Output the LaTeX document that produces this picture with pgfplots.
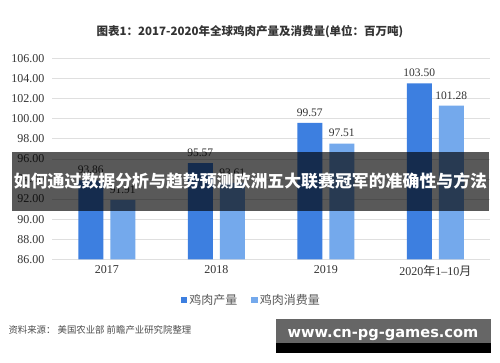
\documentclass[border=0pt]{standalone}
\usepackage{pgfplots}
\pgfplotsset{compat=1.18}
\usepackage{fontspec}
\setmainfont{Liberation Serif}
\newfontfamily\cjk{Noto Sans CJK SC}
\newfontfamily\web{DejaVu Sans}
\definecolor{prod}{HTML}{3D7FE0}
\definecolor{cons}{HTML}{74A9EC}
\definecolor{txt}{HTML}{333333}
\begin{document}
\begin{tikzpicture}
\useasboundingbox (0,0) rectangle (500pt,362pt);
\fill[white] (0,0) rectangle (500pt,362pt);
\node[font=\cjk\bfseries\fontsize{11.5}{13}\selectfont, text=txt] at (250pt,330pt) {图表1：2017-2020年全球鸡肉产量及消费量(单位：百万吨)};
\begin{axis}[
  at={(52pt,102.7pt)}, anchor=south west,
  scale only axis, width=438pt, height=201pt,
  xmin=-0.5, xmax=3.5, ymin=86, ymax=106,
  ytick={86,88,...,106},
  xtick={0,1,2,3},
  xticklabels={2017,2018,2019,{2020{\cjk 年}1–10{\cjk 月}}},
  axis line style={draw=none},
  major tick length=0pt,
  ymajorgrids, grid style={gray!25, line width=0.6pt},
  /pgf/number format/assume math mode=true,
  yticklabel={\pgfmathprintnumber[fixed,fixed zerofill,precision=2]{\tick}},
  yticklabel style={font=\fontsize{12}{12}\selectfont, text=txt, xshift=-4pt},
  xticklabel style={font=\fontsize{12}{12}\selectfont, text=txt, yshift=-3pt},
  ybar, bar width=25pt,
  nodes near coords,
  nodes near coords style={font=\fontsize{11.5}{12}\selectfont, text=txt, yshift=3pt, /pgf/number format/fixed, /pgf/number format/fixed zerofill, /pgf/number format/precision=2},
  legend style={at={(0.455,-0.2025)}, anchor=center, draw=none, fill=none,
    legend columns=2, font=\cjk\fontsize{12}{13}\selectfont, text=black!65,
    /tikz/every even column/.append style={column sep=12pt}},
  legend image code/.code={\fill[#1] (0pt,-3pt) rectangle (6.5pt,3.5pt);},
]
\addplot[fill=prod, draw=none, bar shift=-16pt] coordinates {(0,93.86) (1,95.57) (2,99.57) (3,103.50)};
\addplot[fill=cons, draw=none, bar shift=16pt] coordinates {(0,91.91) (1,93.61) (2,97.51) (3,101.28)};
\legend{鸡肉产量,鸡肉消费量}
\end{axis}
\node[anchor=west, font=\cjk\fontsize{9.4}{11}\selectfont, text=black!70] at (5pt,32pt) {资料来源： 美国农业部 前瞻产业研究院整理};
\fill[black, opacity=0.65] (12pt,151pt) rectangle (489pt,210pt);
\node[font=\cjk\bfseries\fontsize{16.9}{18}\selectfont, text=white] at (250.5pt,180.5pt) {如何通过数据分析与趋势预测欧洲五大联赛冠军的准确性与方法};
\fill[black!60] (276pt,19pt) rectangle (491pt,43pt);
\fill[black] (276pt,9pt) rectangle (491pt,19pt);
\node[font=\web\bfseries\fontsize{14.6}{16}\selectfont, text=white] at (383pt,27pt) {www.cn-pg-games.com};
\end{tikzpicture}
\end{document}
